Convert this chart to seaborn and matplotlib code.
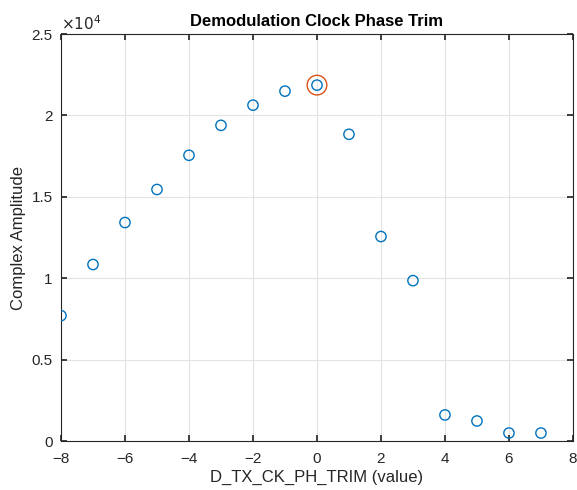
import numpy as np
import pandas as pd
import matplotlib
matplotlib.use("Agg")
import matplotlib.pyplot as plt
import seaborn as sns

# data
trim_values = [-8, -7, -6, -5, -4, -3, -2, -1, 0, 1, 2, 3, 4, 5, 6, 7]
amplitudes = [7700, 10840, 13420, 15450, 17550, 19390, 20630, 21490,
              21860, 18840, 12560, 9850, 1600, 1230, 490, 490]
peak_x = [0]
peak_y = [21860]

y_ticks = [0, 5000, 10000, 15000, 20000, 25000]
y_tick_labels = ["0", "0.5", "1", "1.5", "2", "2.5"]
x_ticks = [-8, -6, -4, -2, 0, 2, 4, 6, 8]

sns.set_theme(style="whitegrid")
plt.rcParams['font.family'] = ['Liberation Sans', 'DejaVu Sans']

df = pd.DataFrame({"trim": trim_values, "amp": amplitudes})
peak_df = pd.DataFrame({"trim": peak_x, "amp": peak_y})

fig = plt.figure(figsize=(5.77, 4.9), dpi=100)
ax = fig.add_axes([0.1057, 0.1, 0.8873, 0.8306])
ax.set_facecolor("white")

sns.scatterplot(data=df, x="trim", y="amp", ax=ax, s=55, marker="o",
                facecolors="none", edgecolor="#0072BD", linewidth=1.0, zorder=3)
sns.scatterplot(data=peak_df, x="trim", y="amp", ax=ax, s=200, marker="o",
                facecolors="none", edgecolor="#D95319", linewidth=1.0, zorder=4)

ax.set_xlim(-8, 8)
ax.set_ylim(0, 25000)
ax.set_xticks(x_ticks)
ax.set_xticklabels([str(v).replace("-", "\u2212") for v in x_ticks])
ax.set_yticks(y_ticks)
ax.set_yticklabels(y_tick_labels)

ax.grid(True, color="#e3e3e3", linewidth=0.8)
for side in ["left", "right", "top", "bottom"]:
    ax.spines[side].set_visible(True)
    ax.spines[side].set_color("#262626")
    ax.spines[side].set_linewidth(0.8)

ax.tick_params(axis="x", direction="in", length=4, color="#262626",
               labelsize=11, labelcolor="#262626", pad=8,
               top=True, bottom=True)
ax.tick_params(axis="y", direction="in", length=4, color="#262626",
               labelsize=11, labelcolor="#262626", pad=6,
               left=True, right=True)

ax.set_xlabel("D_TX_CK_PH_TRIM (value)", fontsize=12, color="#262626", labelpad=3)
ax.set_ylabel("Complex Amplitude", fontsize=12, color="#262626", labelpad=4)
ax.set_title("Demodulation Clock Phase Trim", fontsize=12, fontweight="bold",
             color="black", pad=6)
ax.text(0.0, 1.003, r"$\times10^{4}$", transform=ax.transAxes, fontsize=11,
        color="#262626", ha="left", va="bottom")

fig.savefig("out.png", dpi=100)
